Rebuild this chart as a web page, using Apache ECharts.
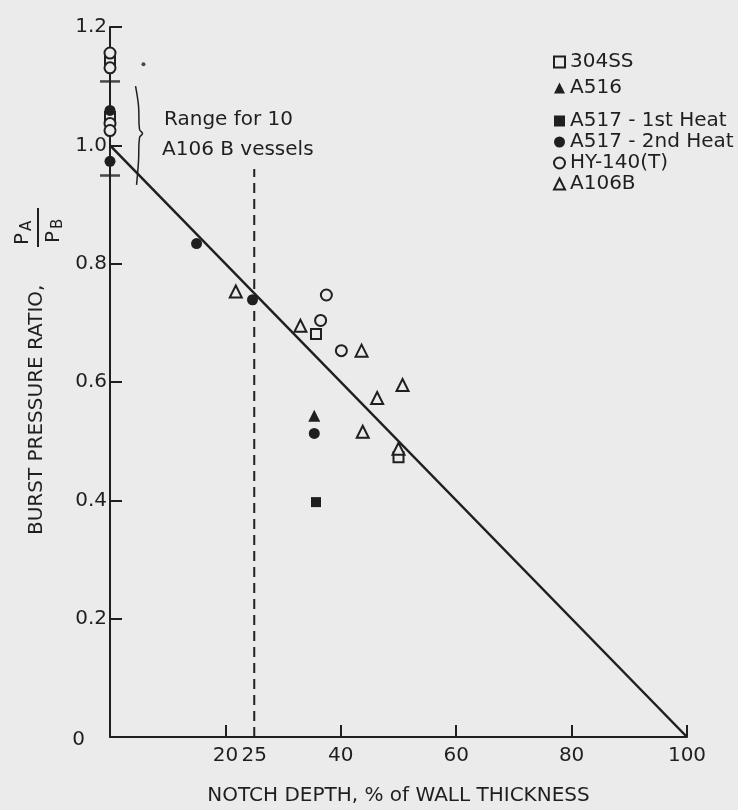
<!DOCTYPE html>
<html>
<head>
<meta charset="utf-8">
<script src="https://cdn.jsdelivr.net/npm/echarts@6/dist/echarts.min.js"></script>
<style>
  html, body { margin: 0; padding: 0; background: #ebebeb; }
  #chart { width: 738px; height: 810px; }
</style>
</head>
<body>
<div id="chart"></div>
<script>
// data: [notch depth %, burst pressure ratio]
const ss304 = [[35.7, 0.681], [50.0, 0.473], [0, 1.142], [0, 1.048]];
const a516 = [[35.4, 0.543]];
const a517first = [[35.7, 0.397]];
const a517second = [[15.0, 0.834], [24.7, 0.739], [35.4, 0.513], [0, 1.059], [0, 0.973]];
const hy140 = [[37.5, 0.747], [36.5, 0.704], [40.1, 0.653], [0, 1.156], [0, 1.131], [0, 1.037], [0, 1.025]];
const a106b = [[21.8, 0.753], [33.0, 0.695], [43.6, 0.653], [50.7, 0.595], [46.3, 0.573], [43.8, 0.516], [50.0, 0.487]];
const strayDot = [[5.8, 1.137]];
const fitLine = [[0, 1.0], [100, 0]];
const refLine = [[25, 0], [25, 0.96]];
const rangeCaps = [[0, 1.108], [0, 0.949]];
const braceRange = [1.10, 0.94];
const xLabelValues = [20, 25, 40, 60, 80, 100];
const xTickValues = [20, 40, 60, 80, 100];

const ink = '#1f1f1f';
const bg = '#ebebeb';
const font = '"DejaVu Sans"';

let chart = echarts.init(document.getElementById('chart'));

function openSym(name, data, symbol, size) {
  return {
    name: name, type: 'scatter', data: data, symbol: symbol, symbolSize: size,
    itemStyle: { color: bg, borderColor: ink, borderWidth: 2, opacity: 1 },
    z: 5, clip: false
  };
}
function fillSym(name, data, symbol, size) {
  return {
    name: name, type: 'scatter', data: data, symbol: symbol, symbolSize: size,
    itemStyle: { color: ink, opacity: 1 }, z: 6, clip: false
  };
}

let legendText = { fontFamily: font, fontSize: 20, color: ink, lineHeight: 20 };

chart.setOption({
  backgroundColor: bg,
  animation: false,
  grid: { left: 110, right: 51, top: 27, bottom: 73, outerBoundsMode: 'none' },
  legend: [
    {
      data: ['304SS', 'A516'], orient: 'vertical', left: 548, top: 47,
      itemWidth: 11, itemHeight: 11, itemGap: 6, textStyle: legendText
    },
    {
      data: ['A517 - 1st Heat', 'A517 - 2nd Heat', 'HY-140(T)', 'A106B'],
      orient: 'vertical', left: 548, top: 106,
      itemWidth: 11, itemHeight: 11, itemGap: 1, textStyle: legendText
    }
  ],
  xAxis: {
    type: 'value', min: 0, max: 100, interval: 20,
    axisLine: { lineStyle: { color: ink, width: 2 } },
    axisTick: { inside: true, length: 12, lineStyle: { color: ink, width: 2 }, customValues: xTickValues },
    axisLabel: { customValues: xLabelValues, margin: 9, color: ink, fontFamily: font, fontSize: 20 },
    splitLine: { show: false },
    name: 'NOTCH DEPTH, % of WALL THICKNESS', nameLocation: 'middle', nameGap: 49,
    nameMoveOverlap: false,
    nameTextStyle: { color: ink, fontFamily: font, fontSize: 20 }
  },
  yAxis: {
    type: 'value', min: 0, max: 1.2, interval: 0.2,
    axisLine: { show: true, lineStyle: { color: ink, width: 2 } },
    axisTick: { show: true, inside: true, length: 12, lineStyle: { color: ink, width: 2 } },
    axisLabel: {
      margin: 3, color: ink, fontFamily: font, fontSize: 20,
      formatter: function (v) { return v === 0 ? '{z|0}' : v.toFixed(1); },
      rich: { z: { fontFamily: font, fontSize: 20, color: ink, padding: [6, 22, 0, 0] } }
    },
    splitLine: { show: false }
  },
  series: [
    {
      type: 'line', data: fitLine, symbol: 'none', silent: true, z: 2,
      lineStyle: { color: ink, width: 2.5 }
    },
    {
      type: 'line', data: refLine, symbol: 'none', silent: true, z: 2,
      lineStyle: { color: ink, width: 2, type: [10, 6] }
    },
    {
      type: 'scatter', data: rangeCaps, symbol: 'rect', symbolSize: [20, 2.5],
      itemStyle: { color: ink }, clip: false, z: 3
    },
    {
      type: 'scatter', data: strayDot, symbol: 'circle', symbolSize: 4,
      itemStyle: { color: ink }, z: 3
    },
    openSym('304SS', ss304, 'rect', 10),
    fillSym('A516', a516, 'triangle', 12),
    fillSym('A517 - 1st Heat', a517first, 'rect', 10),
    fillSym('A517 - 2nd Heat', a517second, 'circle', 11),
    openSym('HY-140(T)', hy140, 'circle', 11),
    openSym('A106B', a106b, 'triangle', 12)
  ]
});

// annotations anchored to the axes
let braceTop = chart.convertToPixel({ gridIndex: 0 }, [4.6, braceRange[0]]);
let braceBot = chart.convertToPixel({ gridIndex: 0 }, [4.6, braceRange[1]]);
let braceMid = (braceTop[1] + braceBot[1]) / 2;
let bx = braceTop[0];

chart.setOption({
  graphic: [
    {
      type: 'polyline', silent: true,
      shape: {
        points: [[bx - 1, braceTop[1]], [bx + 2, braceTop[1] + 20], [bx + 3, braceMid - 4], [bx + 6, braceMid],
                 [bx + 3, braceMid + 4], [bx + 2, braceBot[1] - 20], [bx, braceBot[1] + 4]],
        smooth: 0.4
      },
      style: { stroke: ink, lineWidth: 1.5, fill: null }
    },
    {
      type: 'text', x: 164, y: 120, silent: true,
      style: { text: 'Range for 10', font: '20px ' + font, fill: ink, textVerticalAlign: 'middle' }
    },
    {
      type: 'text', x: 162, y: 150, silent: true,
      style: { text: 'A106 B vessels', font: '20px ' + font, fill: ink, textVerticalAlign: 'middle' }
    },
    {
      type: 'group', x: 37, y: 535, rotation: Math.PI / 2, silent: true,
      children: [
        { type: 'text', x: 0, y: 0, style: { text: 'BURST PRESSURE RATIO,', font: '20px ' + font, fill: ink, textVerticalAlign: 'middle' } },
        { type: 'text', x: 290, y: -14, style: { text: 'P', font: '20px ' + font, fill: ink, textVerticalAlign: 'middle' } },
        { type: 'text', x: 304, y: -10, style: { text: 'A', font: '15px ' + font, fill: ink, textVerticalAlign: 'middle' } },
        { type: 'line', shape: { x1: 288, y1: 1, x2: 327, y2: 1 }, style: { stroke: ink, lineWidth: 2 } },
        { type: 'text', x: 292, y: 17, style: { text: 'P', font: '20px ' + font, fill: ink, textVerticalAlign: 'middle' } },
        { type: 'text', x: 306, y: 21, style: { text: 'B', font: '15px ' + font, fill: ink, textVerticalAlign: 'middle' } }
      ]
    }
  ]
});
</script>
</body>
</html>
